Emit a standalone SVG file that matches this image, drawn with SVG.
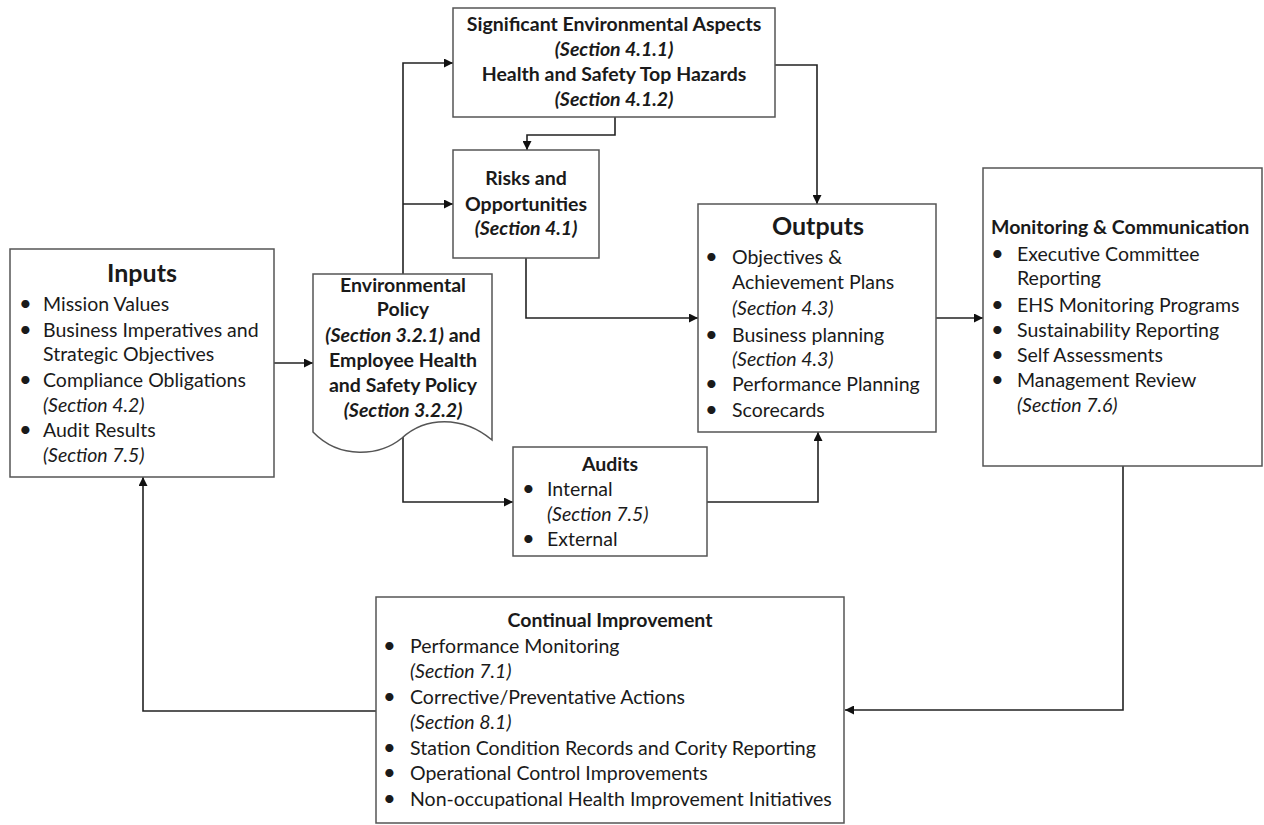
<svg xmlns="http://www.w3.org/2000/svg" width="1264" height="825" viewBox="0 0 1264 825">
<style>
.box{fill:#fff;stroke:#555;stroke-width:1.5}
.con{fill:none;stroke:#222;stroke-width:1.6}
text{font-family:Lato,"Open Sans","Liberation Sans",sans-serif;fill:#1a1a1a;font-size:19.5px}
.b{font-weight:bold}
.i{font-style:italic}
.bi{font-weight:bold;font-style:italic}
.c{text-anchor:middle}
.h1{font-size:25px;font-weight:bold}
.dot{font-size:22px}
</style>
<defs>
<marker id="ah" viewBox="0 0 10 10" refX="10" refY="5" markerWidth="10" markerHeight="9" markerUnits="userSpaceOnUse" orient="auto">
<path d="M0,0 L10,5 L0,10 Z" fill="#111"/>
</marker>
</defs>
<rect width="1264" height="825" fill="#fff"/>
<g id="connectors">
<path class="con" d="M403,440 V63 H453" marker-end="url(#ah)"/>
<path class="con" d="M403,204 H453" marker-end="url(#ah)"/>
<path class="con" d="M403,440 V502 H513" marker-end="url(#ah)"/>
<path class="con" d="M615,117 V135 H527 V150" marker-end="url(#ah)"/>
<path class="con" d="M526,258 V318 H698" marker-end="url(#ah)"/>
<path class="con" d="M775,65 H817 V204" marker-end="url(#ah)"/>
<path class="con" d="M936,318 H983" marker-end="url(#ah)"/>
<path class="con" d="M707,502 H818 V432" marker-end="url(#ah)"/>
<path class="con" d="M274,363 H313" marker-end="url(#ah)"/>
<path class="con" d="M1123,466 V710 H845" marker-end="url(#ah)"/>
<path class="con" d="M376,711 H143 V477" marker-end="url(#ah)"/>
</g>
<g id="aspects">
<rect class="box" x="453" y="8" width="322" height="109"/>
<text class="b c" x="614" y="31">Significant Environmental Aspects</text>
<text class="bi c" x="614" y="56">(Section 4.1.1)</text>
<text class="b c" x="614" y="81">Health and Safety Top Hazards</text>
<text class="bi c" x="614" y="106">(Section 4.1.2)</text>
</g>
<g id="risks">
<rect class="box" x="453" y="150" width="146" height="108"/>
<text class="b c" x="526" y="185">Risks and</text>
<text class="b c" x="526" y="211">Opportunities</text>
<text class="bi c" x="526" y="235">(Section 4.1)</text>
</g>
<g id="policy">
<path class="box" d="M313,274 H492 V440 C462,415 425,417 402,438 C380,456 340,460 313,432 Z"/>
<text class="b c" x="403" y="292">Environmental</text>
<text class="b c" x="403" y="316">Policy</text>
<text class="c" x="403" y="342"><tspan class="bi">(Section 3.2.1)</tspan><tspan class="b"> and</tspan></text>
<text class="b c" x="403" y="367">Employee Health</text>
<text class="b c" x="403" y="392">and Safety Policy</text>
<text class="bi c" x="403" y="417">(Section 3.2.2)</text>
</g>
<g id="inputs">
<rect class="box" x="10" y="249" width="264" height="228"/>
<text class="h1 c" x="142" y="282">Inputs</text>
<text class="dot" x="19" y="311">•</text><text x="43" y="311">Mission Values</text>
<text class="dot" x="19" y="337">•</text><text x="43" y="337">Business Imperatives and</text>
<text x="43" y="361">Strategic Objectives</text>
<text class="dot" x="19" y="387">•</text><text x="43" y="387">Compliance Obligations</text>
<text class="i" x="43" y="412">(Section 4.2)</text>
<text class="dot" x="19" y="437">•</text><text x="43" y="437">Audit Results</text>
<text class="i" x="43" y="462">(Section 7.5)</text>
</g>
<g id="outputs">
<rect class="box" x="698" y="204" width="238" height="228"/>
<text class="h1 c" x="818" y="235">Outputs</text>
<text class="dot" x="705" y="264">•</text><text x="732" y="264">Objectives &amp;</text>
<text x="732" y="289">Achievement Plans</text>
<text class="i" x="732" y="315">(Section 4.3)</text>
<text class="dot" x="705" y="342">•</text><text x="732" y="342">Business planning</text>
<text class="i" x="732" y="366">(Section 4.3)</text>
<text class="dot" x="705" y="391">•</text><text x="732" y="391">Performance Planning</text>
<text class="dot" x="705" y="417">•</text><text x="732" y="417">Scorecards</text>
</g>
<g id="monitoring">
<rect class="box" x="983" y="168" width="279" height="298"/>
<text class="b" x="991" y="234">Monitoring &amp; Communication</text>
<text class="dot" x="991" y="261">•</text><text x="1017" y="261">Executive Committee</text>
<text x="1017" y="285">Reporting</text>
<text class="dot" x="991" y="312">•</text><text x="1017" y="312">EHS Monitoring Programs</text>
<text class="dot" x="991" y="337">•</text><text x="1017" y="337">Sustainability Reporting</text>
<text class="dot" x="991" y="362">•</text><text x="1017" y="362">Self Assessments</text>
<text class="dot" x="991" y="387">•</text><text x="1017" y="387">Management Review</text>
<text class="i" x="1017" y="412">(Section 7.6)</text>
</g>
<g id="audits">
<rect class="box" x="513" y="447" width="194" height="109"/>
<text class="b c" x="610" y="471">Audits</text>
<text class="dot" x="522" y="496">•</text><text x="547" y="496">Internal</text>
<text class="i" x="547" y="521">(Section 7.5)</text>
<text class="dot" x="522" y="546">•</text><text x="547" y="546">External</text>
</g>
<g id="improvement">
<rect class="box" x="376" y="597" width="468" height="226"/>
<text class="b c" x="610" y="627">Continual Improvement</text>
<text class="dot" x="383" y="653">•</text><text x="410" y="653">Performance Monitoring</text>
<text class="i" x="410" y="678">(Section 7.1)</text>
<text class="dot" x="383" y="704">•</text><text x="410" y="704">Corrective/Preventative Actions</text>
<text class="i" x="410" y="729">(Section 8.1)</text>
<text class="dot" x="383" y="755">•</text><text x="410" y="755">Station Condition Records and Cority Reporting</text>
<text class="dot" x="383" y="780">•</text><text x="410" y="780">Operational Control Improvements</text>
<text class="dot" x="383" y="806">•</text><text x="410" y="806">Non-occupational Health Improvement Initiatives</text>
</g>
</svg>
